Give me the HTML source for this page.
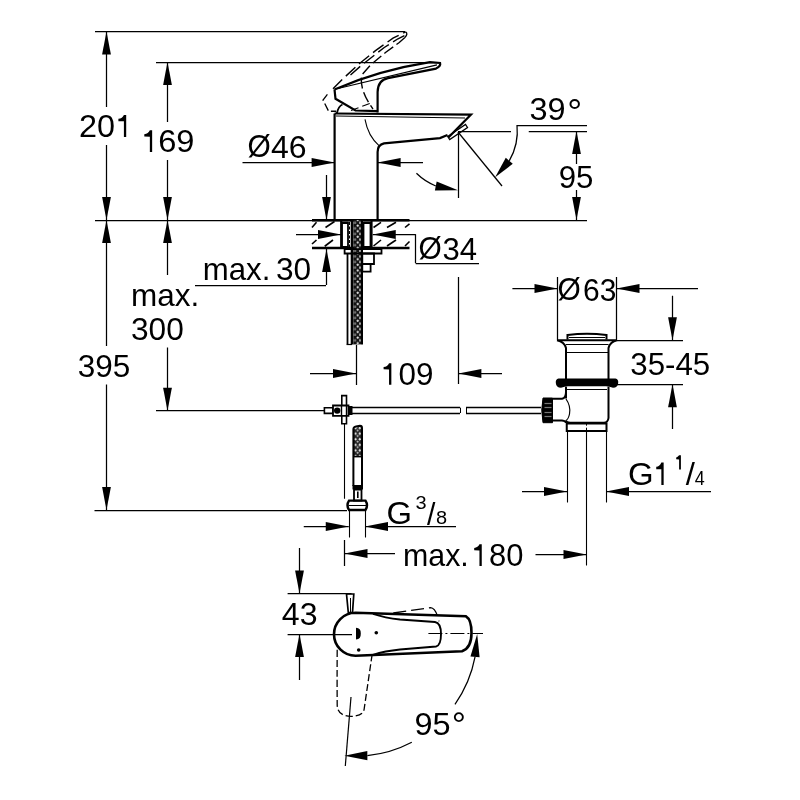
<!DOCTYPE html>
<html><head><meta charset="utf-8"><style>
html,body{margin:0;padding:0;background:#fff;}
svg{display:block;filter:grayscale(1);}
text{font-family:"Liberation Sans",sans-serif;fill:#000;stroke:none;}
</style></head><body>
<svg width="800" height="800" viewBox="0 0 800 800">
<defs>
<pattern id="braid" x="353.6" y="0" width="7.4" height="5.6" patternUnits="userSpaceOnUse">
<rect width="7.4" height="5.6" fill="#111"/>
<path d="M4.2,0.2 L5.5,1.6 L4.2,3 L2.9,1.6 Z" fill="#fff"/>
<ellipse cx="1.5" cy="4.4" rx="0.9" ry="1.3" fill="#999"/>
<ellipse cx="6.4" cy="4.4" rx="0.9" ry="1.3" fill="#bbb"/>
</pattern>
<pattern id="braid2" x="353.4" y="426" width="8.6" height="5.6" patternUnits="userSpaceOnUse">
<rect width="8.6" height="5.6" fill="#222"/>
<path d="M2.2,0.4 L3.6,2 L2.2,3.6 L0.8,2 Z" fill="#eee"/>
<path d="M6.4,0.4 L7.8,2 L6.4,3.6 L5,2 Z" fill="#eee"/>
<path d="M4.3,3.2 L5.5,4.4 L4.3,5.6 L3.1,4.4 Z" fill="#ccc"/>
</pattern>
</defs>
<rect width="800" height="800" fill="#fff"/>
<g stroke="#000" fill="none" stroke-linecap="butt">
<line x1="95" y1="31.5" x2="405" y2="31.5" stroke-width="1.25" />
<line x1="106.5" y1="31.5" x2="106.5" y2="107" stroke-width="1.25" />
<line x1="106.5" y1="145" x2="106.5" y2="220" stroke-width="1.25" />
<polygon points="106.5,31.5 102.1,54.5 110.9,54.5" stroke="none" fill="#000"/>
<polygon points="106.5,220 102.1,197 110.9,197" stroke="none" fill="#000"/>
<line x1="156" y1="62.5" x2="440" y2="62.5" stroke-width="1.25" />
<line x1="167.5" y1="62" x2="167.5" y2="122" stroke-width="1.25" />
<line x1="167.5" y1="160" x2="167.5" y2="220" stroke-width="1.25" />
<polygon points="167.5,62 163.1,85 171.9,85" stroke="none" fill="#000"/>
<polygon points="167.5,220 163.1,197 171.9,197" stroke="none" fill="#000"/>
<line x1="95" y1="220.5" x2="587" y2="220.5" stroke-width="1.25" />
<line x1="106.5" y1="220" x2="106.5" y2="346" stroke-width="1.25" />
<line x1="106.5" y1="384.5" x2="106.5" y2="510" stroke-width="1.25" />
<polygon points="106.5,220 102.1,243 110.9,243" stroke="none" fill="#000"/>
<polygon points="106.5,510 102.1,487 110.9,487" stroke="none" fill="#000"/>
<line x1="94.5" y1="510.5" x2="347" y2="510.5" stroke-width="1.25" />
<line x1="167.5" y1="220" x2="167.5" y2="275" stroke-width="1.25" />
<line x1="167.5" y1="347.5" x2="167.5" y2="410.75" stroke-width="1.25" />
<polygon points="167.5,220 163.1,243 171.9,243" stroke="none" fill="#000"/>
<polygon points="167.5,410.75 163.1,387.75 171.9,387.75" stroke="none" fill="#000"/>
<line x1="156" y1="410.5" x2="325" y2="410.5" stroke-width="1.25" />
<line x1="195" y1="285.5" x2="326" y2="285.5" stroke-width="1.25" />
<line x1="326.5" y1="285" x2="326.5" y2="249" stroke-width="1.25" />
<polygon points="326.5,249 322.1,272 330.9,272" stroke="none" fill="#000"/>
<line x1="326.5" y1="175" x2="326.5" y2="220" stroke-width="1.25" />
<polygon points="326.5,220 322.1,197 330.9,197" stroke="none" fill="#000"/>
<line x1="242.5" y1="162.5" x2="334.6" y2="162.5" stroke-width="1.25" />
<polygon points="334.6,162.5 311.6,158.1 311.6,166.9" stroke="none" fill="#000"/>
<line x1="377.6" y1="162.5" x2="423" y2="162.5" stroke-width="1.25" />
<polygon points="377.6,162.5 400.6,158.1 400.6,166.9" stroke="none" fill="#000"/>
<line x1="334.6" y1="113.5" x2="334.6" y2="220" stroke-width="2.2" />
<path d="M334.6,113.5 L471,114.6 L448.4,137.5" stroke-width="2.2" fill="none" />
<line x1="336" y1="116" x2="465" y2="118" stroke-width="1.2" />
<path d="M447.5,135 L440,138.1 L384,143.4 Q377.6,145 377.6,152 L377.6,220" stroke-width="2.2" fill="none" />
<path d="M447.7,136.5 L465.5,124.5 L467.5,127.5 L449.7,139.5 Z" stroke-width="1.3" fill="none" />
<path d="M365,119.4 Q368,136 379,145.6" stroke-width="1.1" fill="none" />
<path d="M334.5,89.4 L335.5,98.75 L355.5,110.5 L377.6,111.2" stroke-width="2.2" fill="none" />
<path d="M377.6,112.6 L377.6,92 Q378,80 388,78.2 L436,68.6 Q441,66 440.1,63 L430,62.2 Q380,70 334.5,89.4" stroke-width="2.2" fill="none" />
<line x1="338" y1="88.5" x2="437" y2="64.8" stroke-width="1.2" />
<path d="M336.75,113.5 Q338.5,106 342.5,104.5" stroke-width="1.8" fill="none" />
<path d="M333,88.75 L343,78.75 L359.25,63.75 L375.5,50.6 L393,38.1 L405.5,31.9" stroke-width="1.4" fill="none" stroke-dasharray="13,5"/>
<path d="M350.5,75 L361.75,65 L384.25,47.5 L398,38.75 L405.5,35" stroke-width="1.4" fill="none" stroke-dasharray="13,5"/>
<path d="M404.9,37.5 L399.25,42.5 L385.5,52.5 L370.5,65 L361.75,75 Q359,90 373,109" stroke-width="1.4" fill="none" stroke-dasharray="11,4"/>
<path d="M405.5,31.9 Q408.5,33.5 404.9,37.5" stroke-width="1.3" fill="none" />
<path d="M327.4,94.4 L323,100 L328.6,111.25 L336,111.25" stroke-width="1.3" fill="none" stroke-dasharray="8,3"/>
<path d="M351,110.5 L371,103" stroke-width="1.2" fill="none" stroke-dasharray="8,4"/>
<line x1="458" y1="131.5" x2="511" y2="131.5" stroke-width="1.25" />
<line x1="458.5" y1="132" x2="458.5" y2="198" stroke-width="1.25" />
<line x1="458" y1="132" x2="502" y2="186" stroke-width="1.25" />
<line x1="517" y1="125.5" x2="587" y2="125.5" stroke-width="1.25" />
<path d="M517.00,125.00 A59.3,59.3 0 0 1 509.26,160.82" stroke-width="1.25" fill="none" />
<polygon points="495.17,177.21 505.77,157.82 512.75,163.82" stroke="none" fill="#000"/>
<line x1="528.75" y1="131.5" x2="587" y2="131.5" stroke-width="1.25" />
<line x1="576.5" y1="131" x2="576.5" y2="164" stroke-width="1.25" />
<line x1="576.5" y1="190" x2="576.5" y2="220" stroke-width="1.25" />
<polygon points="576.5,131 572.1,154 580.9,154" stroke="none" fill="#000"/>
<polygon points="576.5,220 572.1,197 580.9,197" stroke="none" fill="#000"/>
<path d="M416.44,173.30 A59.3,59.3 0 0 0 435.79,185.98" stroke-width="1.25" fill="none" />
<polygon points="458.00,190.30 434.91,190.50 436.67,181.46" stroke="none" fill="#000"/>
<line x1="312" y1="220.3" x2="409.5" y2="220.3" stroke-width="2.4" />
<line x1="312" y1="248" x2="409.5" y2="248" stroke-width="2.4" />
<line x1="312" y1="227.5" x2="316.5" y2="222.3" stroke-width="1.6" />
<line x1="325.5" y1="227.5" x2="334.5" y2="221.5" stroke-width="1.6" />
<line x1="312" y1="244" x2="316.5" y2="240" stroke-width="1.6" />
<line x1="324.75" y1="246.25" x2="333" y2="240" stroke-width="1.6" />
<line x1="373.5" y1="227.5" x2="381" y2="222.3" stroke-width="1.6" />
<line x1="387" y1="227.5" x2="396" y2="222.3" stroke-width="1.6" />
<line x1="405" y1="227.5" x2="409.5" y2="223.8" stroke-width="1.6" />
<line x1="373.5" y1="246" x2="381" y2="240" stroke-width="1.6" />
<line x1="387" y1="246" x2="396" y2="240" stroke-width="1.6" />
<line x1="405" y1="246" x2="409.5" y2="241.5" stroke-width="1.6" />
<line x1="341.2" y1="221" x2="341.2" y2="248" stroke-width="2.2" />
<line x1="371.5" y1="221" x2="371.5" y2="248" stroke-width="2.2" />
<path d="M342,223 L348,223 L348,247 L342,247 Z" stroke-width="1.8" fill="none" />
<path d="M363.5,223 L370.5,223 L370.5,247 L363.5,247 Z" stroke-width="1.8" fill="none" />
<line x1="342" y1="222.5" x2="348" y2="222.5" stroke-width="1.5" />
<line x1="363.5" y1="222.5" x2="370.5" y2="222.5" stroke-width="1.5" />
<line x1="349.5" y1="222" x2="349.5" y2="248" stroke-width="1" stroke-dasharray="3,1.5"/>
<path d="M350.7,220 L353.6,220 L353.6,344.5 L350.7,344.5 Z" stroke-width="0" fill="#000" />
<path d="M353.6,220 L361,220 L361,344.5 L353.6,344.5 Z" stroke-width="0" fill="url(#braid)" />
<path d="M361,220 L363,220 L363,344.5 L361,344.5 Z" stroke-width="0" fill="#000" />
<path d="M344.6,249.2 L381.5,249.2 L381.5,253.5 L344.6,253.5 Z" stroke-width="1.8" fill="none" />
<path d="M362.3,253.5 L374,253.5 L374,264 L362.3,264 Z" stroke-width="1.8" fill="none" />
<path d="M362.3,264 L370.6,264 L370.6,271.6 L362.3,271.6 Z" stroke-width="1.8" fill="none" />
<path d="M346.6,253.5 L348.4,253.5 L348.4,344.5 L346.6,344.5 Z" stroke-width="0" fill="#000" />
<line x1="346.6" y1="344.5" x2="352" y2="344.5" stroke-width="1.2" />
<line x1="296" y1="234.5" x2="341" y2="234.5" stroke-width="1.25" />
<polygon points="341,234.5 318,230.1 318,238.9" stroke="none" fill="#000"/>
<line x1="372.75" y1="234.5" x2="415.75" y2="234.5" stroke-width="1.25" />
<polygon points="372.75,234.5 395.75,230.1 395.75,238.9" stroke="none" fill="#000"/>
<line x1="415.5" y1="234.25" x2="415.5" y2="263.25" stroke-width="1.25" />
<line x1="415.75" y1="263.5" x2="479" y2="263.5" stroke-width="1.25" />
<line x1="356.5" y1="345" x2="356.5" y2="385" stroke-width="1.25" />
<line x1="458.5" y1="277" x2="458.5" y2="384" stroke-width="1.25" />
<line x1="310" y1="373.5" x2="356" y2="373.5" stroke-width="1.25" />
<polygon points="356,373.5 333,369.1 333,377.9" stroke="none" fill="#000"/>
<line x1="458.4" y1="373.5" x2="502" y2="373.5" stroke-width="1.25" />
<polygon points="458.4,373.5 481.4,369.1 481.4,377.9" stroke="none" fill="#000"/>
<line x1="352" y1="407.5" x2="460" y2="407.5" stroke-width="1.3" />
<line x1="352" y1="413.5" x2="460" y2="413.5" stroke-width="1.3" />
<line x1="466" y1="407.5" x2="541" y2="407.5" stroke-width="1.3" />
<line x1="466" y1="413.5" x2="541" y2="413.5" stroke-width="1.3" />
<line x1="460.5" y1="407.7" x2="460.5" y2="413" stroke-width="1" />
<line x1="466.5" y1="407.7" x2="466.5" y2="413" stroke-width="1" />
<path d="M324.4,407.8 L333,407.8 L333,413.4 L324.4,413.4 Z" stroke-width="1.6" fill="none" />
<path d="M341.8,395.6 L346.5,395.6 L346.5,423.75 L341.8,423.75 Z" stroke-width="1.6" fill="#fff" />
<path d="M333,405.5 L348.5,405.5 L348.5,415.8 L333,415.8 Z" stroke-width="1.8" fill="#fff" />
<circle cx="337.2" cy="410.6" r="3.2" fill="#000" stroke="none"/>
<path d="M348.5,406 L352.5,406 L352.5,415 L348.5,415 Z" stroke-width="0" fill="#000" />
<line x1="341.5" y1="405.5" x2="341.5" y2="415.8" stroke-width="1.4" />
<line x1="346.5" y1="405.5" x2="346.5" y2="415.8" stroke-width="1.4" />
<line x1="344.5" y1="424" x2="344.5" y2="498.75" stroke-width="1.1" />
<path d="M353.4,429 L362,425.5 L362,456.6 L353.4,456.6 Z" stroke-width="0" fill="url(#braid2)" />
<path d="M353.4,486 L353.4,429 Q353.5,427 356,426.5 L360,425.8 Q362,425.8 362,428 L362,486" stroke-width="2" fill="none" />
<line x1="353.4" y1="456.6" x2="362" y2="456.6" stroke-width="1.6" />
<path d="M352.5,485 L363,485 L363,489.5 L352.5,489.5 Z" stroke-width="0" fill="#000" />
<path d="M354,489.5 L361.5,489.5 L361.5,500.6 L354,500.6 Z" stroke-width="1.8" fill="none" />
<line x1="357.8" y1="491.5" x2="357.8" y2="498" stroke-width="1.6" />
<path d="M349,500.6 L365.5,500.6 Q368.5,505 365.5,510 L349,510 Q346,505 349,500.6 Z" stroke-width="2.4" fill="none" />
<line x1="348.5" y1="505.5" x2="366" y2="505.5" stroke-width="1.0" />
<line x1="349.5" y1="510" x2="349.5" y2="537.5" stroke-width="1.1" />
<line x1="365.5" y1="510" x2="365.5" y2="537.5" stroke-width="1.1" />
<line x1="303.75" y1="526.5" x2="348.75" y2="526.5" stroke-width="1.25" />
<polygon points="348.75,526.5 325.75,522.1 325.75,530.9" stroke="none" fill="#000"/>
<line x1="365" y1="526.5" x2="456" y2="526.5" stroke-width="1.25" />
<polygon points="365,526.5 388,522.1 388,530.9" stroke="none" fill="#000"/>
<line x1="344.5" y1="540" x2="344.5" y2="566" stroke-width="1.25" />
<line x1="344.5" y1="553.5" x2="395" y2="553.5" stroke-width="1.25" />
<polygon points="344.5,553.5 367.5,549.1 367.5,557.9" stroke="none" fill="#000"/>
<line x1="535.5" y1="554.5" x2="586.5" y2="554.5" stroke-width="1.25" />
<polygon points="586.5,554.5 563.5,550.1 563.5,558.9" stroke="none" fill="#000"/>
<line x1="586.5" y1="431" x2="586.5" y2="565.5" stroke-width="1.1" />
<line x1="557.5" y1="277" x2="557.5" y2="340" stroke-width="1.25" />
<line x1="616.5" y1="277" x2="616.5" y2="340" stroke-width="1.25" />
<line x1="512.4" y1="288.5" x2="557.5" y2="288.5" stroke-width="1.25" />
<polygon points="557.5,288.5 534.5,284.1 534.5,292.9" stroke="none" fill="#000"/>
<line x1="616.5" y1="288.5" x2="698" y2="288.5" stroke-width="1.25" />
<polygon points="616.5,288.5 639.5,284.1 639.5,292.9" stroke="none" fill="#000"/>
<path d="M567.5,339.5 L567.5,335 Q587,332.5 606.5,335 L606.5,339.5" stroke-width="2" fill="none" />
<line x1="569" y1="337.5" x2="605" y2="337.5" stroke-width="1" />
<path d="M557,340.3 L617,340.3 Q610,342 608.5,348 L608.5,379 M557,340.3 Q564.5,342 566,348 L566,379" stroke-width="2" fill="none" />
<line x1="566" y1="344.5" x2="608.5" y2="344.5" stroke-width="1.1" />
<line x1="566" y1="352.5" x2="608.5" y2="352.5" stroke-width="1.1" />
<path d="M558.5,378.4 L615.5,378.4 Q618.6,379 618.2,383 Q617.8,387.8 613,387.8 Q609.5,386.2 606,386.2 L568,386.2 Q564.5,386.2 561,387.8 Q556.2,387.8 555.8,383 Q555.4,379 558.5,378.4 Z" stroke-width="0" fill="#000" />
<path d="M566,386.8 L566,398.5 M608.5,386.8 L608.5,418 Q608,422.5 604,422.7 L570,422.7 Q566,422.5 566,420.5" stroke-width="2" fill="none" />
<line x1="567" y1="389.5" x2="607" y2="389.5" stroke-width="1.1" />
<path d="M552.5,398.7 L562,398.7 Q566,398 566,392 M552.5,420.5 L562,420.5 Q566,421 566,423" stroke-width="2" fill="none" />
<path d="M566,399 Q571,406 569.5,414 Q568.5,419 566,420.5" stroke-width="1.2" fill="none" />
<path d="M543,398 L552.5,398 L552.5,422.7 L543,422.7 Q540.5,410 543,398 Z" stroke-width="1" fill="#000" />
<line x1="544.5" y1="403.5" x2="551.5" y2="403.5" stroke-width="1.2" stroke="#777"/>
<line x1="544.5" y1="407.5" x2="551.5" y2="407.5" stroke-width="1.2" stroke="#777"/>
<line x1="544.5" y1="412.5" x2="551.5" y2="412.5" stroke-width="1.2" stroke="#777"/>
<line x1="544.5" y1="416.5" x2="551.5" y2="416.5" stroke-width="1.2" stroke="#777"/>
<path d="M566.75,423.5 L606.5,423.5 L606.5,431 L566.75,431 Z" stroke-width="2" fill="none" />
<line x1="567.5" y1="431" x2="567.5" y2="502.5" stroke-width="1.1" />
<line x1="606.5" y1="431" x2="606.5" y2="502.5" stroke-width="1.1" />
<line x1="586.5" y1="422.7" x2="586.5" y2="431" stroke-width="1" stroke-dasharray="3,2"/>
<line x1="617" y1="340.5" x2="683" y2="340.5" stroke-width="1.25" />
<line x1="617" y1="384.5" x2="683" y2="384.5" stroke-width="1.25" />
<line x1="672.5" y1="295.75" x2="672.5" y2="340.3" stroke-width="1.25" />
<polygon points="672.5,340.3 668.1,317.3 676.9,317.3" stroke="none" fill="#000"/>
<line x1="672.5" y1="384.3" x2="672.5" y2="429" stroke-width="1.25" />
<polygon points="672.5,384.3 668.1,407.3 676.9,407.3" stroke="none" fill="#000"/>
<line x1="522" y1="491.5" x2="567" y2="491.5" stroke-width="1.25" />
<polygon points="567,491.5 544,487.1 544,495.9" stroke="none" fill="#000"/>
<line x1="606" y1="491.5" x2="711" y2="491.5" stroke-width="1.25" />
<polygon points="606,491.5 629,487.1 629,495.9" stroke="none" fill="#000"/>
<line x1="287.6" y1="593.5" x2="351.5" y2="593.5" stroke-width="1.25" />
<line x1="287.6" y1="634.5" x2="352" y2="634.5" stroke-width="1.25" />
<line x1="299.5" y1="548" x2="299.5" y2="593.6" stroke-width="1.25" />
<polygon points="299.5,593.6 295.1,570.6 303.9,570.6" stroke="none" fill="#000"/>
<line x1="299.5" y1="634" x2="299.5" y2="680" stroke-width="1.25" />
<polygon points="299.5,634 295.1,657 303.9,657" stroke="none" fill="#000"/>
<path d="M355.5,612.75 L466,616.3 Q471.5,619.5 471.5,633 Q471.5,648 462,651.2 L355.5,655.75 A21.5,21.5 0 0 1 355.5,612.75 Z" stroke-width="2.6" fill="none" />
<path d="M373,613.8 Q385,617.8 400,619.5 L435,622 Q441,623 441,634 Q441,645.5 436,646.5 L400,649.5 Q385,651 373,654.8" stroke-width="1.9" fill="none" />
<path d="M346.5,594 L353.8,594 L352.5,612.5 L348.3,612.5 Z" stroke-width="1.7" fill="none" />
<line x1="350.5" y1="598" x2="350.5" y2="612" stroke-width="1" />
<path d="M356,627.8 Q361,628 360.8,633.6 Q361,639.5 356,639.5 Z" stroke-width="0" fill="#000" />
<circle cx="376.3" cy="632.7" r="1.8" fill="#000" stroke="none"/>
<circle cx="358.7" cy="650" r="1.8" fill="#000" stroke="none"/>
<path d="M393.3,613 L430.5,607.6 Q436,608 439,621.4" stroke-width="1.3" fill="none" stroke-dasharray="13,5"/>
<path d="M337.2,649.75 Q337,680 337.2,705 Q337.5,716 351,716.4 Q364,716 364.3,708 L372.1,654.6" stroke-width="1.3" fill="none" stroke-dasharray="7,3"/>
<line x1="428.4" y1="633.5" x2="483" y2="633.5" stroke-width="1.1" stroke-dasharray="14,3,2,3"/>
<line x1="351" y1="697" x2="345.3" y2="766" stroke-width="1.2" />
<path d="M475.04,656.90 A122.2,122.2 0 0 1 454.98,704.27" stroke-width="1.25" fill="none" />
<polygon points="477.20,634.00 479.62,657.33 470.46,656.47" stroke="none" fill="#000"/>
<path d="M411.80,742.20 A122.2,122.2 0 0 1 367.35,755.57" stroke-width="1.25" fill="none" />
<polygon points="344.35,755.73 367.32,750.97 367.38,760.17" stroke="none" fill="#000"/>
<path d="M126.20,114.90 L126.20,137.10 L123.90,137.10 L123.90,121.35 L118.40,121.15 L118.40,118.85 Q122.40,118.35 123.90,114.90 Z" fill="#000" stroke="none"/>
<path d="M152.15,130.30 L152.15,151.90 L149.85,151.90 L149.85,136.75 L144.30,136.55 L144.30,134.25 Q148.35,133.75 149.85,130.30 Z" fill="#000" stroke="none"/>
<path d="M391.35,363.20 L391.35,384.80 L389.05,384.80 L389.05,369.55 L383.60,369.35 L383.60,367.05 Q387.55,366.55 389.05,363.20 Z" fill="#000" stroke="none"/>
<path d="M481.75,544.30 L481.75,565.90 L479.45,565.90 L479.45,550.55 L474.20,550.35 L474.20,548.05 Q477.95,547.55 479.45,544.30 Z" fill="#000" stroke="none"/>
<path d="M663.65,462.40 L663.65,484.90 L661.35,484.90 L661.35,469.35 L656.25,469.15 L656.25,466.85 Q659.85,466.35 661.35,462.40 Z" fill="#000" stroke="none"/>
<path d="M680.90,455.30 L680.90,469.40 L679.10,469.40 L679.10,459.50 L676.20,459.30 L676.20,457.50 Q677.60,457.00 679.10,455.30 Z" fill="#000" stroke="none"/>
<text transform="translate(79.07,137.1) scale(1.0125,1.0)" x="0" y="0" font-size="32">20</text>
<text transform="translate(158.21,152.4) scale(1.0203,1.0)" x="0" y="0" font-size="32">69</text>
<text transform="translate(271.0,158.3) scale(1.0,1.0)" x="0" y="0" font-size="32">46</text>
<text transform="translate(529.48,120.0) scale(1.0152,1.0)" x="0" y="0" font-size="32">39</text>
<text transform="translate(567.17,125.17) scale(1.1667,1.1667)" x="0" y="0" font-size="32">°</text>
<text transform="translate(558.72,187.5) scale(0.9758,1.0)" x="0" y="0" font-size="32">95</text>
<text transform="translate(202.8,280.0) scale(0.9746,1.0)" x="0" y="0" font-size="32">max.</text>
<text transform="translate(276.01,280.0) scale(0.9879,1.0)" x="0" y="0" font-size="32">30</text>
<text transform="translate(442.53,259.5) scale(0.9706,1.0)" x="0" y="0" font-size="32">34</text>
<text transform="translate(131.03,305.5) scale(0.9846,1.0)" x="0" y="0" font-size="32">max.</text>
<text transform="translate(131.01,340.0) scale(0.9902,1.0)" x="0" y="0" font-size="32">300</text>
<text transform="translate(77.76,376.9) scale(0.9853,1.0)" x="0" y="0" font-size="32">395</text>
<text transform="translate(398.52,385.2) scale(0.9818,1.0)" x="0" y="0" font-size="32">09</text>
<text transform="translate(583.12,300.5) scale(0.9375,1.0)" x="0" y="0" font-size="32">63</text>
<text transform="translate(630.27,375.0) scale(0.9769,1.0)" x="0" y="0" font-size="32">35-45</text>
<text transform="translate(628.08,485.0) scale(1.03,1.0)" x="0" y="0" font-size="32">G</text>
<text transform="translate(685.66,485.0) scale(1.03,1.0)" x="0" y="0" font-size="32">/</text>
<text transform="translate(694.75,485.0) scale(0.9,0.9821)" x="0" y="0" font-size="20">4</text>
<text transform="translate(386.45,524.0) scale(1.0238,1.0)" x="0" y="0" font-size="32">G</text>
<text transform="translate(415.5,508.5) scale(1.0,0.9)" x="0" y="0" font-size="20">3</text>
<text transform="translate(427.0,524.5) scale(0.9444,1.0)" x="0" y="0" font-size="32">/</text>
<text transform="translate(436.0,524.0) scale(1.0,0.9286)" x="0" y="0" font-size="20">8</text>
<text transform="translate(403.0,565.6) scale(0.9492,1.0)" x="0" y="0" font-size="32">max.</text>
<text transform="translate(489.03,565.6) scale(0.9667,1.0)" x="0" y="0" font-size="32">80</text>
<text transform="translate(281.8,625.0) scale(1.003,1.0)" x="0" y="0" font-size="32">43</text>
<text transform="translate(247.57,157.3) scale(0.9348,1.0)" x="0" y="0" font-size="32">Ø</text>
<text transform="translate(418.57,258.5) scale(0.9348,1.0)" x="0" y="0" font-size="32">Ø</text>
<text transform="translate(557.57,299.5) scale(0.9348,1.0)" x="0" y="0" font-size="32">Ø</text>
<text transform="translate(414.48,735.0) scale(1.0152,1.0)" x="0" y="0" font-size="32">95</text>
<text transform="translate(451.78,737.44) scale(1.1111,1.1111)" x="0" y="0" font-size="32">°</text>
</g>
</svg>
</body></html>
